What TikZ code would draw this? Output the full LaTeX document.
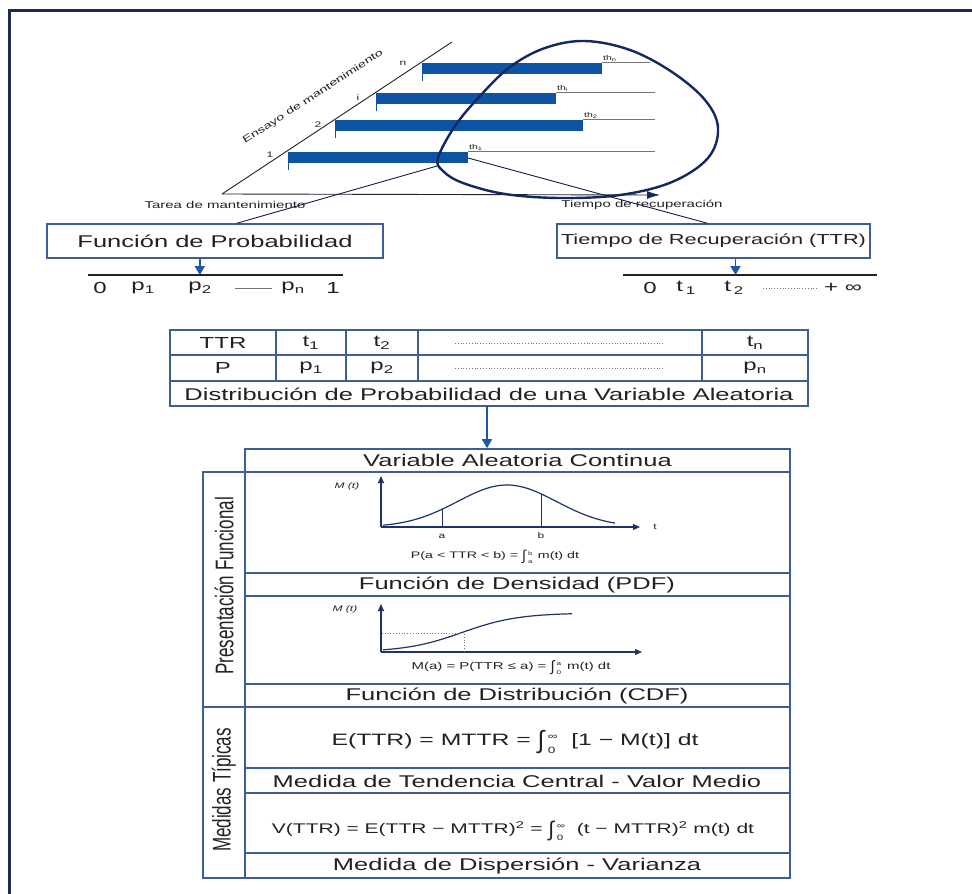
\documentclass[tikz,border=0pt]{standalone}
\usepackage{fontspec}
\setmainfont{Liberation Sans}[FakeStretch=1.5]
\newfontfamily\uprightsans{Liberation Sans}
\usetikzlibrary{arrows.meta,calc}
\definecolor{frameblue}{RGB}{28,42,88}
\definecolor{barblue}{RGB}{14,84,164}
\definecolor{loopblue}{RGB}{18,40,96}
\definecolor{edgeblue}{RGB}{62,94,150}
\definecolor{arrowblue}{RGB}{28,86,168}
\definecolor{ink}{RGB}{34,34,34}
\definecolor{guide}{RGB}{118,118,118}
\definecolor{axisblue}{RGB}{30,52,104}
\newcommand{\fsz}[1]{\fontsize{#1}{#1}\selectfont}
% integral sign with its limits stacked at the right
\newcommand{\integ}{\raisebox{-0.2em}{\scalebox{1}[1.5]{∫}}}
\newcommand{\lims}[2]{\kern0.2em\raisebox{-0.5em}{\scalebox{0.55}{\shortstack[l]{#2\\[0.7em]#1}}}}
\newcommand{\tallrot}[2]{\scalebox{1}[1.5]{\uprightsans\fsz{#1}#2}}
\begin{document}
\begin{tikzpicture}[x=1pt,y=-1pt,
  txt/.style={inner sep=0pt, text=ink},
  labelbox/.style={draw=edgeblue, line width=1.6pt, inner sep=0pt, text=ink, minimum height=34pt},
  tablegrid/.style={draw=edgeblue, line width=1.6pt},
  barfill/.style={fill=barblue},
  bartick/.style={draw=barblue, line width=1.2pt},
  runout/.style={draw=guide, line width=0.9pt},
  axisline/.style={draw=ink, line width=0.9pt},
  leader/.style={draw=loopblue!80!black, line width=0.9pt},
  downarrow/.style={draw=arrowblue, line width=1.6pt, -{Triangle[length=9pt,width=10pt]}},
  plotaxis/.style={draw=axisblue, line width=1.1pt, -{Triangle[length=7pt,width=6pt]}},
  plotcurve/.style={draw=axisblue, line width=1.2pt},
  dotline/.style={draw=guide, line width=0.8pt, dotted},
]
\useasboundingbox (0,0) rectangle (972,894);
\fill[white] (0,0) rectangle (972,894);
% outer frame (top and left edges)
\draw[frameblue, line width=3pt] (9.5,894) -- (9.5,10) -- (972,10);

% ---------- maintenance trials sketch ----------
\coordinate (O) at (222,194);
\coordinate (D) at (452,42);
\coordinate (H) at (660,195);
\draw[axisline] (O) -- (D);
\draw[axisline, -{Latex[length=13pt,width=8pt,color=loopblue]}] (O) -- (H);
\node[txt, rotate=33, font=\fsz{9.5}] (trials) at (313,97) {Ensayo de mantenimiento};
\node[txt, font=\fsz{8}] (k1) at (270,155) {1};
\node[txt, font=\fsz{8}] (k2) at (318,125) {2};
\node[txt, font=\fsz{8}] (ki) at (358,98) {i};
\node[txt, font=\fsz{8}] (kn) at (403,63) {n};

\foreach \nm/\xa/\yt/\xb/\xe/\lab in {b1/288/152/468/655/1, b2/335/120/583/655/2, bi/376/93/556/655/i, bn/422/63/602/650/n} {
  \draw[runout] (\xb,\yt-1) -- (\xe,\yt-1);
  \fill[barfill] (\xa,\yt) rectangle (\xb,\yt+11);
  \draw[bartick] (\xa+0.6,\yt) -- (\xa+0.6,\yt+18);
  \node[txt, anchor=south west, font=\fsz{7}] (lab-\nm) at (\xb+1,\yt-1) {th\textsubscript{\lab}};
}

% recovery-time loop
\draw[loopblue, line width=2.4pt] plot[smooth cycle, tension=0.6] coordinates {(438,158) (455,126) (480,96) (510,67) (545,48) (585,41) (630,50) (672,72) (705,100) (718,128) (708,158) (672,182) (620,195) (560,198) (505,194) (463,183) (443,171)};
\coordinate (loopfoot) at (437,166);
\coordinate (barend) at (468,158);

\node[txt, font=\fsz{10}] (task) at (225,205) {Tarea de mantenimiento};
\node[txt, font=\fsz{10}] (rec) at (642,205) {Tiempo de recuperación};

% ---------- the two summary boxes ----------
\node[labelbox, minimum width=336pt] (fp) at (215,241) {\fsz{17}Función de Probabilidad};
\node[labelbox, minimum width=313pt] (ttr) at (713.5,241) {\fsz{14.5}Tiempo de Recuperación (TTR)};
\draw[leader] (loopfoot) -- ($(fp.north west)!0.565!(fp.north east)$);
\draw[leader] (barend) -- ($(ttr.north west)!0.48!(ttr.north east)$);

% probability scale
\coordinate (pa) at (88,275);
\coordinate (pb) at (343,275);
\draw[axisline, line width=1.1pt] (pa) -- (pb);
\coordinate (fpout) at ($(fp.south west)!0.455!(fp.south east)$);
\draw[downarrow] (fpout) -- (fpout |- pa);
\node[txt, font=\fsz{16}] (p0) at (100,288) {0};
\node[txt, font=\fsz{16}] (p1) at (143,288) {p\textsubscript{1}};
\node[txt, font=\fsz{16}] (p2) at (200,288) {p\textsubscript{2}};
\coordinate (pd1) at (235,288);
\coordinate (pd2) at (272,288);
\draw[runout, line width=0.6pt] (pd1) -- (pd2);
\node[txt, font=\fsz{16}] (pn) at (293,288) {p\textsubscript{n}};
\node[txt, font=\fsz{16}] (pone) at (333,288) {1};

% recovery-time scale
\coordinate (ta) at (623,275);
\coordinate (tb) at (877,275);
\draw[axisline, line width=1.1pt] (ta) -- (tb);
\coordinate (ttrout) at ($(ttr.south west)!0.57!(ttr.south east)$);
\draw[downarrow] (ttrout) -- (ttrout |- ta);
\node[txt, font=\fsz{16}] (t0) at (650,288) {0};
\node[txt, font=\fsz{16}] (t1) at (686,288) {t\,\textsubscript{1}};
\node[txt, font=\fsz{16}] (t2) at (734,288) {t\,\textsubscript{2}};
\coordinate (td1) at (763,288);
\coordinate (td2) at (817,288);
\draw[dotline] (td1) -- (td2);
\node[txt, font=\fsz{16}] (tinf) at (843,288) {+ ∞};

% ---------- distribution table ----------
\draw[tablegrid] (170,330) rectangle (808,406);
\draw[tablegrid] (170,355) -- (808,355) (170,381) -- (808,381);
\foreach \cx in {276,346,418,702} \draw[tablegrid] (\cx,330) -- (\cx,381);
\node[txt, font=\fsz{16}] (cTTR) at (223,343) {TTR};
\node[txt, font=\fsz{16}] (ct1) at (311,343) {t\textsubscript{1}};
\node[txt, font=\fsz{16}] (ct2) at (382,343) {t\textsubscript{2}};
\node[txt, font=\fsz{16}] (ctn) at (755,343) {t\textsubscript{n}};
\node[txt, font=\fsz{16}] (cP) at (223,368) {P};
\node[txt, font=\fsz{16}] (cp1) at (311,368) {p\textsubscript{1}};
\node[txt, font=\fsz{16}] (cp2) at (382,368) {p\textsubscript{2}};
\node[txt, font=\fsz{16}] (cpn) at (755,368) {p\textsubscript{n}};
\draw[dotline] (455,343) -- (664,343);
\draw[dotline] (455,368) -- (664,368);
\node[txt, font=\fsz{17}] (dist) at (489,394) {Distribución de Probabilidad de una Variable Aleatoria};
\coordinate (tabbot) at (487,406);

% ---------- continuous random variable block ----------
\node[draw=edgeblue, line width=1.6pt, minimum width=545pt, minimum height=23pt, inner sep=0pt, text=ink] (vac) at (517.5,460.5) {\fsz{17}Variable Aleatoria Continua};
\draw[downarrow] (tabbot) -- (tabbot |- vac.north);

\draw[tablegrid] (203,472) rectangle (790,878);
\draw[tablegrid] (245,472) -- (245,878);
\foreach \ry in {573,596,684,768,793,853} \draw[tablegrid] (245,\ry) -- (790,\ry);
\draw[tablegrid] (203,707) -- (790,707);

\node[txt, rotate=90] (pres) at (224,586) {\tallrot{17}{Presentación Funcional}};
\node[txt, rotate=90] (med) at (224,790) {\tallrot{17}{Medidas Típicas}};

\node[txt, font=\fsz{17}] (pdf) at (517,585) {Función de Densidad (PDF)};
\node[txt, font=\fsz{17}] (cdf) at (517,696) {Función de Distribución (CDF)};
\node[txt, font=\fsz{17}] (mean) at (517,781) {Medida de Tendencia Central - Valor Medio};
\node[txt, font=\fsz{17}] (disp) at (517,866) {Medida de Dispersión - Varianza};

% density sketch
\coordinate (g1o) at (381,527);
\draw[plotaxis] (g1o) -- (381,476);
\draw[plotaxis] (g1o) -- (640,527);
\draw[plotcurve] plot[domain=383:615, samples=70] (\x, {527-42*exp(-((\x-507)/70)^2)});
\draw[plotcurve, line width=1pt] (442,527) -- (442,509);
\draw[plotcurve, line width=1pt] (541,527) -- (541,494);
\node[txt, font=\fsz{8}\itshape] (g1m) at (347,486) {M (t)};
\node[txt, font=\fsz{8}] (g1t) at (655,527) {t};
\node[txt, font=\fsz{8}] (g1a) at (442,536) {a};
\node[txt, font=\fsz{8}] (g1b) at (541,536) {b};
\node[txt, font=\fsz{9.5}] (g1f) at (495,557) {P(a < TTR < b) = \integ\lims{a}{b}\, m(t) dt};

% distribution sketch
\coordinate (g2o) at (381,652);
\draw[plotaxis] (g2o) -- (381,604);
\draw[plotaxis] (g2o) -- (642,652);
\draw[plotcurve] plot[domain=383:572, samples=70] (\x, {652-39/(1+exp(-(\x-462)/28))});
\draw[dotline] (382,633) -- (462,633);
\draw[dotline] (464,634) -- (464,651);
\node[txt, font=\fsz{8}\itshape] (g2m) at (345,609) {M (t)};
\node[txt, font=\fsz{10}] (g2f) at (511,668) {M(a) = P(TTR ≤ a) = \integ\lims{0}{a}\, m(t) dt};

% typical measures
\node[txt, font=\fsz{16.5}] (eq1) at (515,742) {E(TTR) = MTTR = \integ\lims{0}{∞}\ \ [1 − M(t)] dt};
\node[txt, font=\fsz{14}] (eq2) at (513,831) {V(TTR) = E(TTR − MTTR)\textsuperscript{2} = \integ\lims{0}{∞}\ \ (t − MTTR)\textsuperscript{2} m(t) dt};
\end{tikzpicture}
\end{document}
